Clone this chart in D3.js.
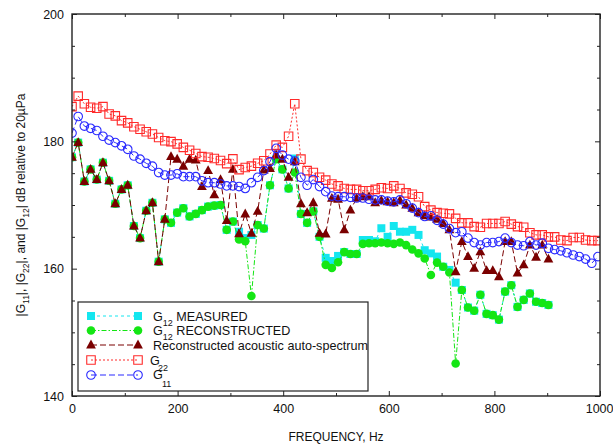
<!DOCTYPE html>
<html><head><meta charset="utf-8">
<script src="https://cdn.jsdelivr.net/npm/d3@7"></script>
<style>body{margin:0;background:#fff}svg{display:block;font-family:Arial,"Liberation Sans",sans-serif}</style>
</head><body><svg id="c" width="613" height="445"></svg>
<script>
const freq=[0,11.7,23.4,35.2,46.9,58.6,70.3,82.0,93.8,105.5,117.2,128.9,140.6,152.3,164.1,175.8,187.5,199.2,210.9,222.7,234.4,246.1,257.8,269.5,281.3,293.0,304.7,316.4,328.1,339.8,351.6,363.3,375.0,386.7,398.4,410.2,421.9,433.6,445.3,457.0,468.8,480.5,492.2,503.9,515.6,527.3,539.1,550.8,562.5,574.2,585.9,597.7,609.4,621.1,632.8,644.5,656.3,668.0,679.7,691.4,703.1,714.8,726.6,738.3,750.0,761.7,773.4,785.2,796.9,808.6,820.3,832.0,843.8,855.5,867.2,878.9,890.6,902.3,914.1,925.8,937.5,949.2,960.9,972.7,984.4,996.1];
const g11=[181.3,183.9,182.4,182.05,181.7,180.8,180.2,179.8,179.3,178.75,177.7,177.2,176.55,176.1,175.1,174.7,174.7,174.9,174.45,174.45,174.45,173.8,173.5,173.5,173.3,173.0,173.0,172.9,172.6,173.5,174.35,175.4,176.8,178.9,177.85,177.2,176.9,174.35,173.1,174.0,172.9,172.1,171.4,171.3,171.3,171.2,171.1,171.1,170.9,170.8,170.8,170.6,170.5,170.8,170.2,169.5,168.8,168.2,168.3,167.6,167.0,166.3,165.65,165.8,164.8,164.1,163.7,164.1,164.1,164.25,164.8,164.1,163.7,163.6,164.25,163.7,164.0,163.2,163.0,162.8,162.5,162.15,161.9,161.5,160.85,161.9];
const g22=[185.45,187.1,185.9,185.35,185.2,185.45,184.3,184.0,183.25,182.9,182.3,181.9,181.5,181.15,180.6,180.1,179.95,179.6,179.05,178.6,178.1,177.6,177.5,177.3,177.0,176.5,177.25,175.55,175.9,176.1,176.55,176.95,178.0,179.4,179.05,180.8,185.9,177.2,175.4,175.1,174.35,173.9,173.3,173.0,172.6,172.45,172.45,172.25,172.25,172.45,172.7,172.6,173.0,172.6,171.9,171.7,171.3,169.75,169.2,168.8,168.7,168.6,167.9,167.2,167.2,166.6,166.5,167.1,167.1,167.1,167.4,167.0,166.6,166.5,165.65,165.3,165.3,165.0,165.0,164.5,164.4,164.9,164.9,164.5,164.4,164.4];
const recon=[177.5,179.8,173.7,175.6,174.0,176.65,173.8,170.2,172.45,173.1,166.7,164.8,169.1,170.35,161.1,167.75,177.6,177.2,176.1,177.2,177.05,172.9,175.4,171.6,174.0,167.55,175.6,165.5,168.6,165.55,169.0,175.5,175.75,177.85,177.2,174.35,176.8,170.2,168.8,170.35,165.55,165.45,171.05,170.9,166.1,169.2,171.05,171.3,171.3,170.35,170.7,170.5,170.35,170.7,170.0,169.5,168.8,168.3,168.1,167.75,167.1,166.1,159.5,164.25,161.9,160.05,162.65,159.7,159.7,158.75,164.25,164.25,159.3,160.6,163.7,161.8,163.7,161.5];
const g12Rec=[177.5,179.8,173.7,175.6,174.0,176.65,173.8,170.2,172.45,173.1,166.7,164.8,169.1,170.35,161.1,167.75,167.2,168.8,169.5,168.2,168.6,169.2,169.75,169.9,170.0,166.1,167.4,164.6,164.3,155.7,166.85,166.3,173.1,177.2,175.6,172.6,175.1,168.6,167.2,169.0,165.0,160.6,160.1,161.0,162.6,162.3,162.3,163.9,164.0,164.0,164.1,164.0,163.9,164.1,163.7,163.0,162.4,161.6,159.0,160.95,160.3,159.4,145.1,156.65,153.9,153.4,155.9,152.9,152.7,152.0,156.4,157.4,154.0,155.1,156.1,154.8,154.6,154.3];
const g12Meas=[177.5,179.8,173.7,175.6,174.0,176.65,173.8,170.2,172.45,173.1,166.7,164.8,169.1,170.35,161.1,167.75,167.2,168.8,169.5,168.2,168.6,169.2,169.75,169.9,170.0,166.1,167.4,165.8,164.8,165.3,166.85,166.3,173.1,177.2,175.6,172.6,177.3,168.6,167.2,169.0,165.0,161.7,161.2,162.0,162.6,162.3,162.3,164.5,164.5,164.3,166.35,165.0,166.7,165.8,165.8,166.1,165.3,162.9,162.4,161.9,160.3,159.8,157.8,156.65,153.9,153.4,155.9,152.9,152.7,152.0,156.4,157.4,154.0,155.1,156.1,154.8,154.6,154.3];
const xTicks=[0,200,400,600,800,1000];
const xMinor=[100,300,500,700,900];
const yTicks=[140,160,180,200];
const yMinor=[145,150,155,165,170,175,185,190,195];

const svg=d3.select('#c');
const L=72,R=600,T=14,B=396;
const x=d3.scaleLinear().domain([0,1000]).range([L,R]);
const y=d3.scaleLinear().domain([140,200]).range([B,T]);

svg.append('defs').append('clipPath').attr('id','clip').append('rect')
  .attr('x',L).attr('y',T).attr('width',R-L).attr('height',B-T);

const C={cyan:'#14e6ef',green:'#14e614',dred:'#7a0000',red:'#ff2a2a',blue:'#2a2aff'};
const sq=s=>`M${-s/2},${-s/2}h${s}v${s}h${-s}Z`;
const tri='M0,-5.4L4.9,3.5L-4.9,3.5Z';
const circ=r=>`M${r},0A${r},${r} 0 1,1 ${-r},0A${r},${r} 0 1,1 ${r},0Z`;

const series=[
  {vals:g12Meas,color:C.cyan,dash:'3,3',mark:sq(8),fill:C.cyan,stroke:'none'},
  {vals:g12Rec,color:C.green,dash:'5,2,1.5,2',mark:circ(4.3),fill:C.green,stroke:'none'},
  {vals:recon,color:C.dred,dash:'6,3',mark:tri,fill:C.dred,stroke:'none'},
  {vals:g22,color:C.red,dash:'2,2',mark:sq(8.5),fill:'none',stroke:C.red},
  {vals:g11,color:C.blue,dash:'6,3',mark:circ(4.3),fill:'none',stroke:C.blue}
];

const plot=svg.append('g').attr('clip-path','url(#clip)');
series.forEach(s=>{
  const pts=s.vals.map((v,i)=>[freq[i],v]);
  plot.append('path').datum(pts)
    .attr('d',d3.line().x(d=>x(d[0])).y(d=>y(d[1])))
    .attr('fill','none').attr('stroke',s.color).attr('stroke-width',1)
    .attr('stroke-dasharray',s.dash);
  plot.append('g').selectAll('path').data(pts).join('path')
    .attr('transform',d=>`translate(${x(d[0])},${y(d[1])})`)
    .attr('d',s.mark).attr('fill',s.fill).attr('stroke',s.stroke).attr('stroke-width',1.1);
});

// axes
function styleAxis(g){g.select('.domain').remove();g.selectAll('line').attr('stroke','#222');
  g.selectAll('text').attr('fill','#111').style('font-size','12.5px').style('font-family','Arial,"Liberation Sans",sans-serif');}
const fmt=d3.format('d');
const xb=svg.append('g').attr('transform',`translate(0,${B})`).call(d3.axisBottom(x).tickValues(xTicks).tickFormat(fmt).tickSize(-5).tickPadding(8)).call(styleAxis);
xb.selectAll('.tick').filter(d=>d===1000).select('text').attr('text-anchor','end').attr('x',13);
svg.append('g').attr('transform',`translate(0,${B})`).call(d3.axisBottom(x).tickValues(xMinor).tickSize(-3).tickFormat('')).call(styleAxis);
svg.append('g').attr('transform',`translate(0,${T})`).call(d3.axisTop(x).tickValues(xTicks).tickSize(-5).tickFormat('')).call(styleAxis);
svg.append('g').attr('transform',`translate(0,${T})`).call(d3.axisTop(x).tickValues(xMinor).tickSize(-3).tickFormat('')).call(styleAxis);
svg.append('g').attr('transform',`translate(${L},0)`).call(d3.axisLeft(y).tickValues(yTicks).tickFormat(fmt).tickSize(-5).tickPadding(8)).call(styleAxis);
svg.append('g').attr('transform',`translate(${L},0)`).call(d3.axisLeft(y).tickValues(yMinor).tickSize(-3).tickFormat('')).call(styleAxis);
svg.append('g').attr('transform',`translate(${R},0)`).call(d3.axisRight(y).tickValues(yTicks).tickSize(-5).tickFormat('')).call(styleAxis);
svg.append('g').attr('transform',`translate(${R},0)`).call(d3.axisRight(y).tickValues(yMinor).tickSize(-3).tickFormat('')).call(styleAxis);

svg.append('rect').attr('x',L).attr('y',T).attr('width',R-L).attr('height',B-T)
  .attr('fill','none').attr('stroke','#222').attr('stroke-width',1.4);

// axis titles
svg.append('text').attr('x',336).attr('y',441).attr('text-anchor','middle')
  .style('font-size','12px').attr('fill','#111').text('FREQUENCY, Hz');
const yt=svg.append('text').attr('transform','translate(25,205) rotate(-90)').attr('text-anchor','middle')
  .style('font-size','12px').attr('fill','#111');
const ytParts=[['|G',0],['11',1],['|, |G',0],['22',1],['|, and |G',0],['12',1],['| dB relative to 20\u00b5Pa',0]];
ytParts.forEach((p,i)=>{
  const t=yt.append('tspan').text(p[0]);
  if(p[1]){t.style('font-size','8.5px').attr('dy',4);}
  else if(i>0){t.attr('dy',-4);}
});

// legend
const lg=svg.append('g');
lg.append('rect').attr('x',78).attr('y',302).attr('width',290).attr('height',89)
  .attr('fill','#fff').attr('stroke','#222').attr('stroke-width',1.2);
const rows=[316,330.5,345,360,375];
series.forEach((s,i)=>{
  const yy=rows[i];
  lg.append('line').attr('x1',91).attr('x2',138).attr('y1',yy).attr('y2',yy)
    .attr('stroke',s.color).attr('stroke-dasharray',s.dash);
  [91,138].forEach(xx=>lg.append('path').attr('transform',`translate(${xx},${yy})`)
    .attr('d',s.mark).attr('fill',s.fill).attr('stroke',s.stroke).attr('stroke-width',1.1));
});
function lgText(xx,yy,parts){
  const t=lg.append('text').attr('x',xx).attr('y',yy).style('font-size','12.6px').attr('fill','#111');
  parts.forEach(p=>{
    const ts=t.append('tspan').text(p[0]);
    if(p[1]==='sub'){ts.style('font-size','9px').attr('dy',5);}
    else if(p[1]==='back'){ts.attr('dy',-5);}
  });
}
lgText(153,320.5,[['G'],['12','sub'],[' MEASURED','back']]);
lgText(153,335,[['G'],['12','sub'],[' RECONSTRUCTED','back']]);
lgText(153,349.5,[['Reconstructed acoustic auto-spectrum']]);
lg.append('text').attr('x',150).attr('y',365).style('font-size','12.6px').attr('fill','#111').text('G');
lg.append('text').attr('x',158).attr('y',371).style('font-size','9px').attr('fill','#111').text('22');
lg.append('text').attr('x',153).attr('y',378.5).style('font-size','12.6px').attr('fill','#111').text('G');
lg.append('text').attr('x',162).attr('y',387).style('font-size','9px').attr('fill','#111').text('11');
</script></body></html>
